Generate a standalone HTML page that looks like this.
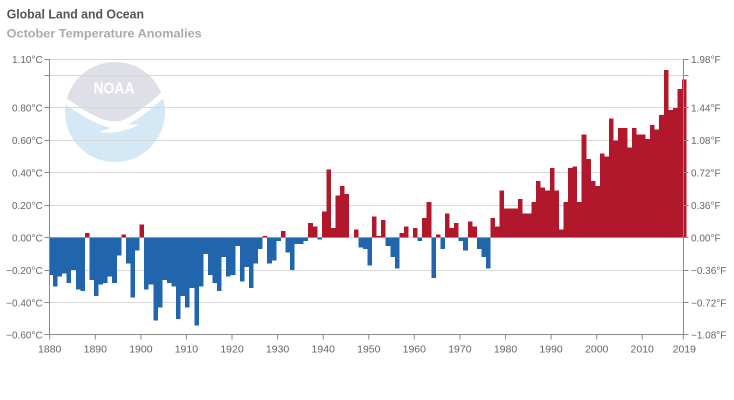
<!DOCTYPE html>
<html>
<head>
<meta charset="utf-8">
<style>
html,body{margin:0;padding:0;background:#fff;}
svg{display:block;}
text{font-family:"Liberation Sans",sans-serif;}
</style>
</head>
<body>
<svg width="734" height="400" viewBox="0 0 734 400" xmlns="http://www.w3.org/2000/svg">
<rect x="0" y="0" width="734" height="400" fill="#fff"/>
<text x="6.7" y="18.3" font-size="12.5" font-weight="bold" fill="#555" textLength="137.3" lengthAdjust="spacingAndGlyphs">Global Land and Ocean</text>
<text x="6.7" y="37.7" font-size="12" font-weight="bold" fill="#aaa" textLength="195" lengthAdjust="spacingAndGlyphs">October Temperature Anomalies</text>
<defs>
<clipPath id="lc"><circle cx="115" cy="112" r="50"/></clipPath>
</defs>
<g clip-path="url(#lc)">
<rect x="60" y="55" width="110" height="115" fill="#d5e8f5"/>
<path d="M60,50 H172 V84 C155,97 140,114 120,121 C100,124 82,108 60,94 Z" fill="#dfdfe8"/>
<path d="M60,94 C82,108 100,124 120,121 C140,114 155,97 172,84 L172,91 C156,104 142,118 128,124 C134,125 138,125 140,124 C128,131 112,134 99,132 C104,130 108,129 111,128 C92,123 78,113 60,101 Z" fill="#ffffff"/>
</g>
<text x="93.5" y="93.3" font-size="15.5" font-weight="bold" fill="#ffffff" textLength="41" lengthAdjust="spacingAndGlyphs">NOAA</text>
<path stroke="#d8d8d8" stroke-width="1" fill="none" d="M49.7,59.5H683.3 M49.7,75.5H683.3 M49.7,107.5H683.3 M49.7,140.5H683.3 M49.7,172.5H683.3 M49.7,205.5H683.3 M49.7,237.5H683.3 M49.7,270.5H683.3 M49.7,302.5H683.3"/>
<g transform="translate(48.421,237.7) scale(4.558,-162.2)" shape-rendering="crispEdges">
<path fill="#b2182b" d="M8,0h1v0.03h-1z M16,0h1v0.02h-1z M20,0h1v0.08h-1z M47,0h1v0.01h-1z M51,0h1v0.04h-1z M57,0h1v0.09h-1z M58,0h1v0.07h-1z M60,0h1v0.16h-1z M61,0h1v0.42h-1z M62,0h1v0.06h-1z M63,0h1v0.26h-1z M64,0h1v0.32h-1z M65,0h1v0.27h-1z M67,0h1v0.05h-1z M71,0h1v0.13h-1z M72,0h1v0.01h-1z M73,0h1v0.11h-1z M77,0h1v0.03h-1z M78,0h1v0.07h-1z M80,0h1v0.06h-1z M82,0h1v0.12h-1z M83,0h1v0.22h-1z M85,0h1v0.02h-1z M87,0h1v0.15h-1z M88,0h1v0.06h-1z M89,0h1v0.09h-1z M92,0h1v0.10h-1z M93,0h1v0.07h-1z M97,0h1v0.12h-1z M98,0h1v0.07h-1z M99,0h1v0.29h-1z M100,0h1v0.18h-1z M101,0h1v0.18h-1z M102,0h1v0.18h-1z M103,0h1v0.24h-1z M104,0h1v0.15h-1z M105,0h1v0.15h-1z M106,0h1v0.22h-1z M107,0h1v0.35h-1z M108,0h1v0.31h-1z M109,0h1v0.29h-1z M110,0h1v0.43h-1z M111,0h1v0.29h-1z M112,0h1v0.05h-1z M113,0h1v0.22h-1z M114,0h1v0.43h-1z M115,0h1v0.44h-1z M116,0h1v0.22h-1z M117,0h1v0.635h-1z M118,0h1v0.485h-1z M119,0h1v0.35h-1z M120,0h1v0.32h-1z M121,0h1v0.52h-1z M122,0h1v0.50h-1z M123,0h1v0.735h-1z M124,0h1v0.60h-1z M125,0h1v0.675h-1z M126,0h1v0.675h-1z M127,0h1v0.557h-1z M128,0h1v0.675h-1z M129,0h1v0.637h-1z M130,0h1v0.635h-1z M131,0h1v0.61h-1z M132,0h1v0.695h-1z M133,0h1v0.668h-1z M134,0h1v0.755h-1z M135,0h1v1.034h-1z M136,0h1v0.787h-1z M137,0h1v0.80h-1z M138,0h1v0.917h-1z M139,0h1v0.976h-1z"/>
<path fill="#2166ac" d="M0.28,0h0.72v-0.23h-0.72z M1,0h1v-0.30h-1z M2,0h1v-0.24h-1z M3,0h1v-0.22h-1z M4,0h1v-0.28h-1z M5,0h1v-0.20h-1z M6,0h1v-0.32h-1z M7,0h1v-0.33h-1z M9,0h1v-0.26h-1z M10,0h1v-0.36h-1z M11,0h1v-0.29h-1z M12,0h1v-0.28h-1z M13,0h1v-0.24h-1z M14,0h1v-0.28h-1z M15,0h1v-0.11h-1z M17,0h1v-0.16h-1z M18,0h1v-0.37h-1z M19,0h1v-0.08h-1z M21,0h1v-0.32h-1z M22,0h1v-0.29h-1z M23,0h1v-0.51h-1z M24,0h1v-0.43h-1z M25,0h1v-0.26h-1z M26,0h1v-0.28h-1z M27,0h1v-0.30h-1z M28,0h1v-0.50h-1z M29,0h1v-0.36h-1z M30,0h1v-0.43h-1z M31,0h1v-0.31h-1z M32,0h1v-0.54h-1z M33,0h1v-0.30h-1z M34,0h1v-0.10h-1z M35,0h1v-0.23h-1z M36,0h1v-0.28h-1z M37,0h1v-0.33h-1z M38,0h1v-0.12h-1z M39,0h1v-0.24h-1z M40,0h1v-0.23h-1z M41,0h1v-0.05h-1z M42,0h1v-0.27h-1z M43,0h1v-0.18h-1z M44,0h1v-0.31h-1z M45,0h1v-0.16h-1z M46,0h1v-0.07h-1z M48,0h1v-0.16h-1z M49,0h1v-0.14h-1z M50,0h1v-0.02h-1z M52,0h1v-0.09h-1z M53,0h1v-0.20h-1z M54,0h1v-0.04h-1z M55,0h1v-0.04h-1z M56,0h1v-0.02h-1z M59,0h1v-0.01h-1z M68,0h1v-0.06h-1z M69,0h1v-0.07h-1z M70,0h1v-0.17h-1z M74,0h1v-0.05h-1z M75,0h1v-0.12h-1z M76,0h1v-0.19h-1z M81,0h1v-0.02h-1z M84,0h1v-0.25h-1z M86,0h1v-0.07h-1z M90,0h1v-0.02h-1z M91,0h1v-0.08h-1z M94,0h1v-0.07h-1z M95,0h1v-0.12h-1z M96,0h1v-0.19h-1z"/>
</g>
<g stroke="#8a8a8a" stroke-width="1" fill="none">
<path d="M49.5,59V335 M683.5,59V335 M44.5,334.5H688.5"/>
<path d="M44.5,59.5H49.5 M44.5,75.5H49.5 M44.5,107.5H49.5 M44.5,140.5H49.5 M44.5,172.5H49.5 M44.5,205.5H49.5 M44.5,237.5H49.5 M44.5,270.5H49.5 M44.5,302.5H49.5"/>
<path d="M683.5,59.5H688.5 M683.5,75.5H688.5 M683.5,107.5H688.5 M683.5,140.5H688.5 M683.5,172.5H688.5 M683.5,205.5H688.5 M683.5,237.5H688.5 M683.5,270.5H688.5 M683.5,302.5H688.5"/>
<path d="M49.7,334.5V339.5 M95.3,334.5V339.5 M140.9,334.5V339.5 M186.4,334.5V339.5 M232,334.5V339.5 M277.6,334.5V339.5 M323.2,334.5V339.5 M368.8,334.5V339.5 M414.3,334.5V339.5 M459.9,334.5V339.5 M505.5,334.5V339.5 M551.1,334.5V339.5 M596.7,334.5V339.5 M642.2,334.5V339.5 M683.3,334.5V339.5"/>
</g>
<g font-size="10" fill="#666" text-anchor="end">
<text x="42.7" y="63.2">1.10°C</text>
<text x="42.7" y="111.6">0.80°C</text>
<text x="42.7" y="144.1">0.60°C</text>
<text x="42.7" y="176.5">0.40°C</text>
<text x="42.7" y="209">0.20°C</text>
<text x="42.7" y="241.4">0.00°C</text>
<text x="42.7" y="273.8">−0.20°C</text>
<text x="42.7" y="306.3">−0.40°C</text>
<text x="42.7" y="338.7">−0.60°C</text>
</g>
<g font-size="10" fill="#666" text-anchor="start">
<text x="691" y="63.2">1.98°F</text>
<text x="691" y="111.6">1.44°F</text>
<text x="691" y="144.1">1.08°F</text>
<text x="691" y="176.5">0.72°F</text>
<text x="691" y="209">0.36°F</text>
<text x="691" y="241.4">0.00°F</text>
<text x="691" y="273.8">−0.36°F</text>
<text x="691" y="306.3">−0.72°F</text>
<text x="691" y="338.7">−1.08°F</text>
</g>
<g font-size="10.5" fill="#666" text-anchor="middle">
<text x="49.7" y="352.3">1880</text>
<text x="95.3" y="352.3">1890</text>
<text x="140.9" y="352.3">1900</text>
<text x="186.4" y="352.3">1910</text>
<text x="232" y="352.3">1920</text>
<text x="277.6" y="352.3">1930</text>
<text x="323.2" y="352.3">1940</text>
<text x="368.8" y="352.3">1950</text>
<text x="414.3" y="352.3">1960</text>
<text x="459.9" y="352.3">1970</text>
<text x="505.5" y="352.3">1980</text>
<text x="551.1" y="352.3">1990</text>
<text x="596.7" y="352.3">2000</text>
<text x="642.2" y="352.3">2010</text>
<text x="684.3" y="352.3">2019</text>
</g>
</svg>
</body>
</html>
